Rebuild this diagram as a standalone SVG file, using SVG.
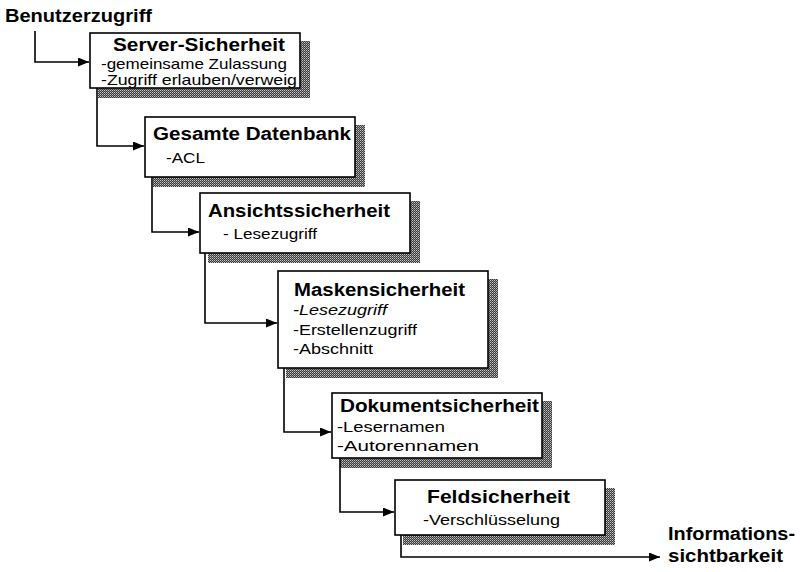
<svg xmlns="http://www.w3.org/2000/svg" width="806" height="572" viewBox="0 0 806 572">
<style>
  .box { fill: #fff; stroke: #000; stroke-width: 1.6; }
  .shadow { fill: url(#dots); }
  .conn { fill: none; stroke: #000; stroke-width: 1.6; }
  .t { font-family: "Liberation Sans", Arial, sans-serif; font-weight: bold; font-size: 18px; fill: #000; }
  .b { font-family: "Liberation Sans", Arial, sans-serif; font-size: 15px; fill: #000; }
  .i { font-style: italic; }
</style>
<defs>
  <pattern id="dots" width="2" height="2" patternUnits="userSpaceOnUse">
    <rect width="2" height="2" fill="#3a3a3a"/>
    <rect width="1" height="1" fill="#c8c8c8"/>
    <rect x="1" y="1" width="1" height="1" fill="#8a8a8a"/>
  </pattern>
  <marker id="arr" markerWidth="11" markerHeight="9" refX="11" refY="4.5" orient="auto" markerUnits="userSpaceOnUse">
    <path d="M0,0 L11,4.5 L0,9 Z" fill="#000"/>
  </marker>
</defs>
<rect width="806" height="572" fill="#fff"/>

<text class="t" x="5" y="22" textLength="147" lengthAdjust="spacingAndGlyphs">Benutzerzugriff</text>
<text class="t" x="668" y="540" textLength="127" lengthAdjust="spacingAndGlyphs">Informations-</text>
<text class="t" x="668" y="562" textLength="115" lengthAdjust="spacingAndGlyphs">sichtbarkeit</text>

<g id="shadows">
  <rect class="shadow" x="98" y="41" width="212" height="57"/>
  <rect class="shadow" x="153" y="125" width="212" height="62"/>
  <rect class="shadow" x="208" y="201" width="212" height="62"/>
  <rect class="shadow" x="286" y="279" width="212" height="99"/>
  <rect class="shadow" x="340" y="401" width="212" height="67"/>
  <rect class="shadow" x="403" y="488" width="212" height="57"/>
</g>

<g id="connectors">
  <path class="conn" d="M35,31 V62 H89" marker-end="url(#arr)"/>
  <path class="conn" d="M97,88 V146 H144" marker-end="url(#arr)"/>
  <path class="conn" d="M152,177 V232 H199" marker-end="url(#arr)"/>
  <path class="conn" d="M205,253 V323 H277" marker-end="url(#arr)"/>
  <path class="conn" d="M284,368 V432 H331" marker-end="url(#arr)"/>
  <path class="conn" d="M340,458 V512 H394" marker-end="url(#arr)"/>
  <path class="conn" d="M401,535 V557 H660" marker-end="url(#arr)"/>
</g>

<g id="server">
  <rect class="box" x="90" y="33" width="210" height="55"/>
  <text class="t" x="113" y="51" font-size="17" textLength="172" lengthAdjust="spacingAndGlyphs">Server-Sicherheit</text>
  <text class="b" x="101" y="68.5" font-size="14.5" textLength="186" lengthAdjust="spacingAndGlyphs">-gemeinsame Zulassung</text>
  <text class="b" x="101" y="84.5" font-size="14.5" textLength="196" lengthAdjust="spacingAndGlyphs">-Zugriff erlauben/verweig</text>
</g>

<g id="datenbank">
  <rect class="box" x="145" y="117" width="210" height="60"/>
  <text class="t" x="153" y="140" textLength="198" lengthAdjust="spacingAndGlyphs">Gesamte Datenbank</text>
  <text class="b" x="166" y="163" textLength="39" lengthAdjust="spacingAndGlyphs">-ACL</text>
</g>

<g id="ansicht">
  <rect class="box" x="200" y="193" width="210" height="60"/>
  <text class="t" x="208" y="217" textLength="182" lengthAdjust="spacingAndGlyphs">Ansichtssicherheit</text>
  <text class="b" x="223" y="239" textLength="94" lengthAdjust="spacingAndGlyphs">- Lesezugriff</text>
</g>

<g id="masken">
  <rect class="box" x="278" y="271" width="210" height="97"/>
  <text class="t" x="294" y="296" textLength="171" lengthAdjust="spacingAndGlyphs">Maskensicherheit</text>
  <text class="b i" x="293" y="315" textLength="94" lengthAdjust="spacingAndGlyphs">-Lesezugriff</text>
  <text class="b" x="293" y="335" textLength="124" lengthAdjust="spacingAndGlyphs">-Erstellenzugriff</text>
  <text class="b" x="293" y="354" textLength="80" lengthAdjust="spacingAndGlyphs">-Abschnitt</text>
</g>

<g id="dokument">
  <rect class="box" x="332" y="393" width="210" height="65"/>
  <text class="t" x="340" y="412" textLength="199" lengthAdjust="spacingAndGlyphs">Dokumentsicherheit</text>
  <text class="b" x="337" y="432" textLength="108" lengthAdjust="spacingAndGlyphs">-Lesernamen</text>
  <text class="b" x="337" y="451" textLength="142" lengthAdjust="spacingAndGlyphs">-Autorennamen</text>
</g>

<g id="feld">
  <rect class="box" x="395" y="480" width="210" height="55"/>
  <text class="t" x="427" y="503" textLength="143" lengthAdjust="spacingAndGlyphs">Feldsicherheit</text>
  <text class="b" x="423" y="525" textLength="137" lengthAdjust="spacingAndGlyphs">-Verschlüsselung</text>
</g>
</svg>
